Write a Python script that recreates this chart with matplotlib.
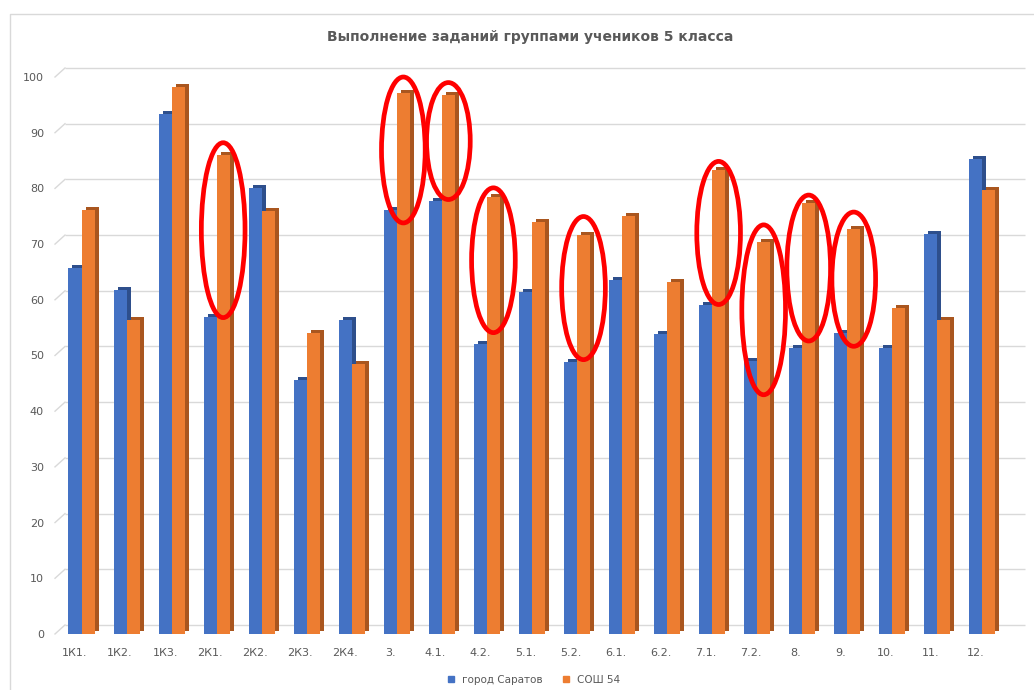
import numpy as np
import matplotlib
matplotlib.use("Agg")
import matplotlib.pyplot as plt
from matplotlib.patches import Ellipse
from matplotlib.transforms import ScaledTranslation
from matplotlib.lines import Line2D

# data
tasks = ["1К1.", "1К2.", "1К3.", "2К1.", "2К2.", "2К3.", "2К4.", "3.", "4.1.", "4.2.",
         "5.1.", "5.2.", "6.1.", "6.2.", "7.1.", "7.2.", "8.", "9.", "10.", "11.", "12."]
saratov = [65.7, 61.8, 93.4, 56.9, 80.1, 45.6, 56.4, 76.1, 77.7, 52.1,
           61.4, 48.8, 63.6, 53.9, 59.1, 49.0, 51.3, 54.0, 51.3, 71.8, 85.3]
school54 = [76.1, 56.4, 98.2, 86.0, 75.9, 54.0, 48.5, 97.1, 96.8, 78.5,
            74.0, 71.6, 75.0, 63.2, 83.3, 70.4, 77.4, 72.7, 58.5, 56.4, 79.7]
series_names = ["город Саратов", "СОШ 54"]

# red ovals drawn over some bars: (task, centre value, height in value units)
highlights = [("2К1.", 72.5, 31.4), ("3.", 86.9, 26.2), ("4.1.", 88.5, 21.0),
              ("4.2.", 67.1, 26.0), ("5.2.", 62.1, 25.7), ("7.1.", 72.0, 25.7),
              ("7.2.", 58.2, 30.5), ("8.", 65.7, 26.2), ("9.", 63.7, 24.1)]

blue, blue_side = "#4472C4", "#2E4F8C"
orange, orange_side = "#ED7D31", "#A9561F"
grey = "#595959"
gridc = "#d9d9d9"

fig = plt.figure(figsize=(10.34, 6.9), dpi=100)
ax = fig.add_axes([0.0532, 0.0812, 0.938, 0.8072])

x = np.arange(len(tasks))
w = 0.29
yticks = np.arange(0, 101, 10)
ax.set_xlim(-0.444, 21.09)
ax.set_ylim(0, 100)

# back wall gridlines sit a little up and to the right (3D perspective)
wall = ScaledTranslation(0, 0.09, fig.dpi_scale_trans)
ytr = ax.get_yaxis_transform()
ax.hlines(yticks, 0.0103, 1, color=gridc, lw=1, transform=ytr + wall, zorder=0,
          clip_on=False)
for v in yticks:
    ax.plot([0, 0.0103], [v, v + 1.62], color=gridc, lw=1, transform=ytr,
            clip_on=False, zorder=0)

# back (shaded) copies give the 3D look, then the front faces
depth = ScaledTranslation(0.04, 0.03, fig.dpi_scale_trans)
for vals, pos, face, side, z in [(saratov, x, blue, blue_side, 2),
                                 (school54, x + w, orange, orange_side, 3)]:
    back = ax.bar(pos, vals, w, color=side, zorder=z)
    for p in back:
        p.set_transform(ax.transData + depth)
        p.set_clip_on(False)
    ax.bar(pos, vals, w, color=face, zorder=z + 0.5)

for name, yc, h in highlights:
    i = tasks.index(name)
    ax.add_patch(Ellipse((i + w, yc), 0.97, h, fill=False, edgecolor="#FF0000",
                         lw=3.4, zorder=6, clip_on=False))

ax.set_yticks(yticks)
ax.set_xticks(x)
ax.set_xticklabels(tasks)
for s in ax.spines.values():
    s.set_visible(False)
ax.tick_params(length=0, colors=grey, labelsize=8)
ax.tick_params(axis="y", pad=8)
ax.tick_params(axis="x", pad=10)

fig.suptitle("Выполнение заданий группами учеников 5 класса", x=0.513, y=0.957,
             fontsize=10, fontweight="bold", color=grey)

handles = [Line2D([], [], marker="s", ls="", color=blue, markersize=5),
           Line2D([], [], marker="s", ls="", color=orange, markersize=5)]
fig.legend(handles, series_names, loc="center", bbox_to_anchor=(0.513, 0.015),
           ncol=2, frameon=False, fontsize=7.5, labelcolor=grey,
           handletextpad=0.1, columnspacing=1.2)

# chart area border (left and top edges are inside the picture)
fig.add_artist(Line2D([0.0097, 0.0097, 1], [0, 0.98, 0.98], color=gridc, lw=1,
                      transform=fig.transFigure))

fig.savefig("out.png", dpi=100)
